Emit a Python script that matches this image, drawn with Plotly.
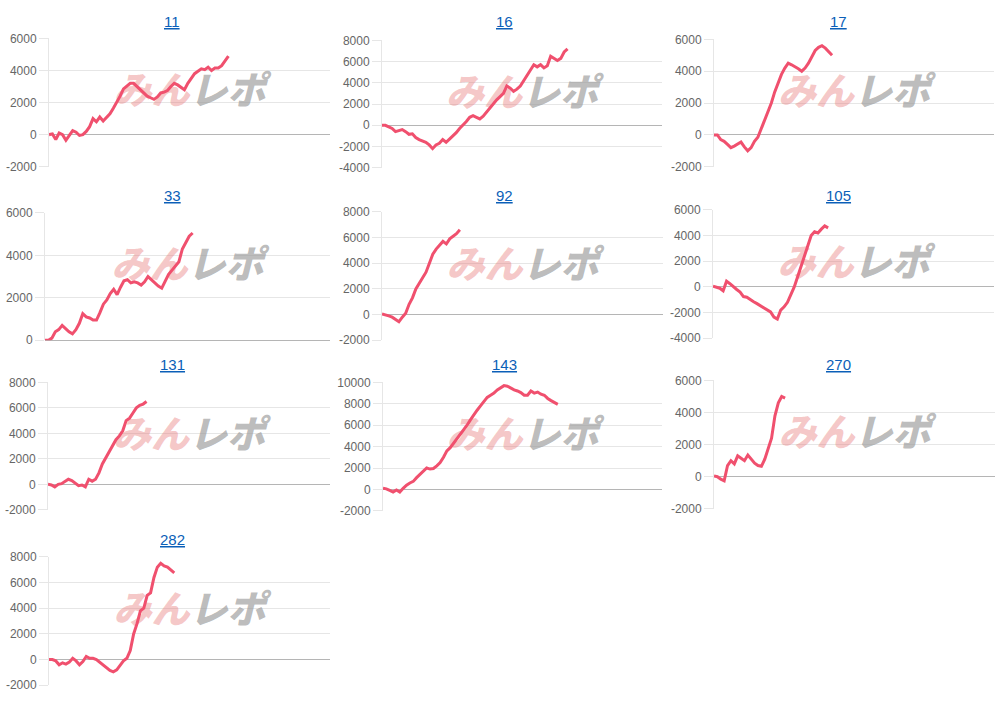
import plotly.graph_objects as go

# ---------------- data ----------------
titles = ["11", "16", "17", "33", "92", "105", "131", "143", "270", "282"]

s11 = [0, 50, -300, 100, 0, -350, -50, 250, 150, -50, 0, 200, 500, 1000, 800,
       1100, 850, 1050, 1300, 1650, 2000, 2400, 2850, 3050, 3200, 3200, 3000,
       2800, 2550, 2400, 2300, 2200, 2350, 2600, 2650, 2750, 3000, 3200, 3100,
       2950, 2800, 3200, 3500, 3800, 3950, 4100, 4050, 4200, 4000, 4150, 4150,
       4300, 4600, 4900]
s16 = [0, 0, -150, -300, -600, -500, -400, -600, -850, -800, -1150, -1350,
       -1450, -1600, -1850, -2200, -1850, -1700, -1350, -1600, -1300, -1000,
       -700, -300, 0, 350, 750, 900, 750, 600, 850, 1250, 1550, 1950, 2400,
       2700, 3000, 3700, 3500, 3200, 3400, 3700, 4200, 4800, 5300, 5700, 5500,
       5700, 5400, 5600, 6500, 6300, 6100, 6300, 6900, 7200]
s17 = [0, 0, -300, -400, -600, -800, -700, -600, -450, -750, -1000, -800, -400,
       -150, 400, 900, 1500, 2000, 2700, 3300, 3800, 4200, 4500, 4400, 4300,
       4150, 4000, 4200, 4500, 4900, 5300, 5500, 5600, 5450, 5200, 5000]
s33 = [0, 0, 100, 400, 500, 700, 550, 400, 300, 500, 800, 1250, 1100, 1050,
       950, 950, 1300, 1700, 1900, 2200, 2400, 2150, 2500, 2800, 2850, 2700,
       2750, 2700, 2600, 2750, 3000, 2850, 2700, 2550, 2450, 2800, 3100, 3300,
       3500, 3700, 4300, 4600, 4900, 5050]
s92 = [50, 0, -100, -200, -400, -550, -200, 100, 800, 1300, 2000, 2400, 2800,
       3300, 4000, 4700, 5100, 5400, 5700, 5500, 5900, 6100, 6300, 6600]
s105 = [50, 0, -100, -300, 450, 250, 0, -200, -400, -750, -800, -1000, -1150,
        -1300, -1450, -1600, -1750, -1950, -2350, -2500, -1800, -1550, -1200,
        -650, 0, 800, 1600, 2400, 3200, 4000, 4300, 4200, 4500, 4750, 4600]
s131 = [0, -50, -200, 0, 50, 250, 400, 300, 100, -100, -50, -200, 400, 250,
        400, 900, 1600, 2100, 2600, 3100, 3500, 3800, 4200, 5000, 5200, 5600,
        6000, 6200, 6300, 6500]
s143 = [100, 50, -100, -250, -50, -250, 100, 400, 600, 750, 1100, 1400, 1700,
        2000, 1900, 1950, 2200, 2500, 3000, 3600, 3900, 4300, 4800, 5200, 5600,
        6000, 6500, 7000, 7400, 7800, 8200, 8600, 8800, 9000, 9300, 9500, 9700,
        9650, 9450, 9300, 9200, 9050, 8800, 8800, 9200, 9000, 9100, 8900, 8800,
        8500, 8300, 8100, 7950]
s270 = [50, 0, -150, -250, 700, 1000, 800, 1300, 1150, 1000, 1350, 1100, 850,
        700, 650, 1100, 1800, 2400, 3800, 4600, 5000, 4900]
s282 = [0, 0, -100, -400, -250, -350, -200, 100, -100, -400, -150, 250, 100,
        100, 0, -200, -400, -650, -850, -950, -800, -450, -100, 100, 700, 2000,
        2800, 3800, 4000, 5000, 5200, 6400, 7200, 7500, 7300, 7200, 6950, 6750]

series = [s11, s16, s17, s33, s92, s105, s131, s143, s270, s282]

ticks_11 = [-2000, 0, 2000, 4000, 6000]
ticks_16 = [-4000, -2000, 0, 2000, 4000, 6000, 8000]
ticks_17 = [-2000, 0, 2000, 4000, 6000]
ticks_33 = [0, 2000, 4000, 6000]
ticks_92 = [-2000, 0, 2000, 4000, 6000, 8000]
ticks_105 = [-4000, -2000, 0, 2000, 4000, 6000]
ticks_131 = [-2000, 0, 2000, 4000, 6000, 8000]
ticks_143 = [-2000, 0, 2000, 4000, 6000, 8000, 10000]
ticks_270 = [-2000, 0, 2000, 4000, 6000]
ticks_282 = [-2000, 0, 2000, 4000, 6000, 8000]
tick_sets = [ticks_11, ticks_16, ticks_17, ticks_33, ticks_92, ticks_105,
             ticks_131, ticks_143, ticks_270, ticks_282]

x_slots = 83  # common length of the (hidden) x axis

# ---------------- layout geometry (pixels) ----------------
W, H = 1000, 706
# plot boxes: left, right, top, bottom
boxes = [
    (49, 330, 32, 163), (382, 662, 34, 164), (714, 994, 33, 163),
    (45, 330, 210, 340), (382, 663, 209, 340), (713, 994, 207, 338),
    (48, 330, 383, 513), (383, 662, 383, 514), (714, 995, 381, 512),
    (49, 330, 561, 692),
]
col_centers = [172, 504, 838]
title_y = [15, 192, 365, 543]

LINE = "#f0506e"
GRID = "#e6e6e6"
fig = go.Figure()
layout = dict(
    width=W, height=H, margin=dict(l=0, r=0, t=0, b=0),
    paper_bgcolor="white", plot_bgcolor="white", showlegend=False,
    font=dict(family="Liberation Sans, Arial, sans-serif", color="#666", size=12),
    annotations=[],
)

for i, (vals, ticks, title, box) in enumerate(zip(series, tick_sets, titles, boxes)):
    k = "" if i == 0 else str(i + 1)
    l, r, t, b = box
    ymin, ymax = min(ticks), max(ticks)
    layout["xaxis" + k] = dict(
        domain=[l / W, r / W], anchor="y" + k, range=[0, x_slots],
        visible=False, fixedrange=True,
    )
    layout["yaxis" + k] = dict(
        domain=[1 - b / H, 1 - t / H], anchor="x" + k, range=[ymin, ymax],
        tickmode="array", tickvals=ticks, ticktext=[str(v) for v in ticks],
        showgrid=True, gridcolor=GRID, gridwidth=1,
        zeroline=True, zerolinecolor="#b5b5b5", zerolinewidth=1,
        showline=True, linecolor=GRID, linewidth=1,
        ticks="outside", ticklen=9, tickcolor=GRID, tickwidth=1,
        tickfont=dict(size=12, color="#666"), fixedrange=True,
    )
    # watermark (drawn beneath the line)
    fig.add_trace(go.Scatter(
        x=[x_slots * 0.5], y=[(ymin + ymax) / 2 + (ymax - ymin) * 0.06],
        mode="text", xaxis="x" + k, yaxis="y" + k, hoverinfo="skip",
        text=["<span style='color:rgba(232,120,120,0.42)'>みん</span>"
              "<span style='color:rgba(150,150,150,0.65)'>レポ</span>"],
        textfont=dict(family="Noto Sans CJK JP", size=38, weight=900, style="italic"),
    ))
    fig.add_trace(go.Scatter(
        x=list(range(len(vals))), y=vals, mode="lines",
        xaxis="x" + k, yaxis="y" + k,
        line=dict(color=LINE, width=3), hoverinfo="y",
    ))
    layout["annotations"].append(dict(
        text=title, xref="paper", yref="paper",
        x=col_centers[i % 3] / W, y=1 - title_y[i // 3] / H,
        xanchor="center", yanchor="middle", showarrow=False,
        font=dict(size=15, color="#0b5fb8", lineposition="under",
                  family="Liberation Sans, Arial, sans-serif"),
    ))

fig.update_layout(**layout)
fig.write_html("out.html", config={"displayModeBar": False},
               post_script="document.body.style.margin='0';")
